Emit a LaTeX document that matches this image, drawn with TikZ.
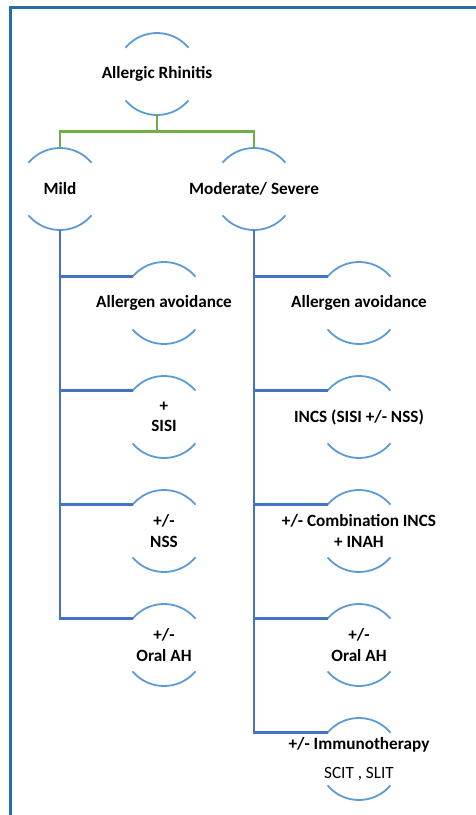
\documentclass[tikz,border=0pt]{standalone}
\definecolor{arcBlue}{RGB}{91, 155, 213}
\definecolor{linkBlue}{RGB}{68, 114, 196}
\definecolor{linkGreen}{RGB}{112, 173, 71}
\definecolor{frameBlue}{RGB}{38, 108, 168}
\usepackage{fontspec}
\setmainfont{Carlito}
\usepackage{tikz}
\usetikzlibrary{positioning, calc}

\begin{document}
\begin{tikzpicture}[
                x=1pt, y=1pt,
                node distance=32pt,
                bubble/.style={circle, minimum size=82pt, inner sep=0pt, outer sep=0pt, draw=arcBlue, line width=1.8pt, dash pattern=on 71.56pt off 57.24pt, dash phase=100.18pt},
                btext/.style={font=\fontsize{17.2}{20.5}\selectfont\bfseries, align=center, text=black},
                blink/.style={draw=linkBlue, line width=2.6pt},
                glink/.style={draw=linkGreen, line width=2.6pt}
            ]
                \useasboundingbox (0,0) rectangle (476,-815);
                \draw[frameBlue, line width=3pt] (476,-7) -- (10.5,-7) -- (10.5,-815);

                \node[bubble, label={[btext]center:Allergic Rhinitis}] (root) at (157,-74) {};
                \node[bubble, below=33pt of root, xshift=-97pt, label={[btext]center:Mild}] (mild) {};
                \node[bubble, below=33pt of root, xshift=97pt, label={[btext]center:Moderate/ Severe}] (mod) {};

                % mild branch
                \node[bubble, below=of mild, xshift=104pt, label={[btext]center:Allergen avoidance}] (mildA) {};
                \node[bubble, below=of mildA, label={[btext]center:+\\SISI}] (mildB) {};
                \node[bubble, below=of mildB, label={[btext]center:+/-\\NSS}] (mildC) {};
                \node[bubble, below=of mildC, label={[btext]center:+/-\\Oral AH}] (mildD) {};

                % moderate / severe branch
                \node[bubble, below=of mod, xshift=105pt, label={[btext]center:Allergen avoidance}] (modA) {};
                \node[bubble, below=of modA, label={[btext]center:INCS (SISI +/- NSS)}] (modB) {};
                \node[bubble, below=of modB, label={[btext]center:+/- Combination INCS\\+ INAH}] (modC) {};
                \node[bubble, below=of modC, label={[btext]center:+/-\\Oral AH}] (modD) {};
                \node[bubble, below=of modD, label={[btext]center:+/- Immunotherapy\\[8pt]{\mdseries SCIT , SLIT}}] (modE) {};

                \coordinate (split) at ($(root.south)!0.5!(root.south |- mild.north)$);
                \draw[glink] (root.south) -- (split) -| (mild.north);
                \draw[glink] (split) -| (mod.north);

                \foreach \c in {mildA, mildB, mildC, mildD}
                    \draw[blink] (mild.south) |- (\c.140);
                \foreach \c in {modA, modB, modC, modD, modE}
                    \draw[blink] (mod.south) |- (\c.140);
            \end{tikzpicture}
\end{document}
